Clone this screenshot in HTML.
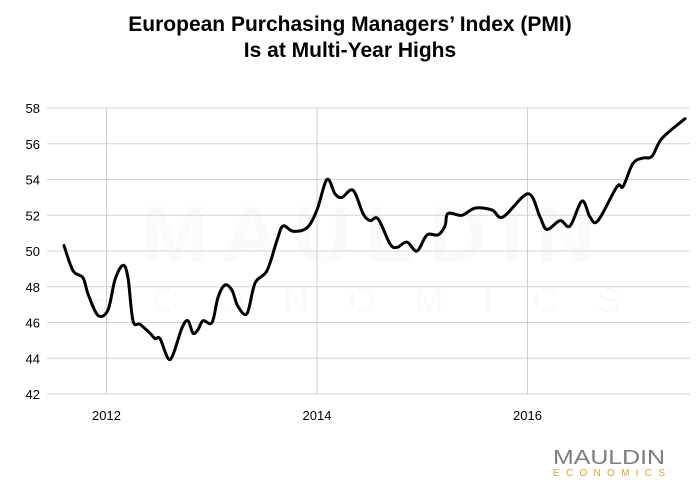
<!DOCTYPE html>
<html><head><meta charset="utf-8"><style>
html,body{margin:0;padding:0;background:#fff;}
body{width:700px;height:486px;overflow:hidden;font-family:"Liberation Sans",sans-serif;}
</style></head><body>
<svg id="chart" width="700" height="486" viewBox="0 0 700 486" xmlns="http://www.w3.org/2000/svg">
<text x="350" y="31" text-anchor="middle" font-size="21" font-weight="bold" fill="#000">European Purchasing Managers’ Index (PMI)</text>
<text x="350" y="57" text-anchor="middle" font-size="21" font-weight="bold" fill="#000">Is at Multi-Year Highs</text>
<text x="375" y="262" text-anchor="middle" font-size="80" font-weight="bold" fill="#fafafa" letter-spacing="14">MAULDIN</text>
<text x="375" y="312" text-anchor="middle" font-size="34" fill="#fafafa" letter-spacing="40">ECONOMICS</text>
<g id="grid"></g>
<g id="axes"></g>
<path id="line" fill="none" stroke="#000" stroke-width="3" stroke-linejoin="round" stroke-linecap="round"></path>
<text x="553" y="464" font-size="20" fill="#7d7d7d" textLength="112" lengthAdjust="spacingAndGlyphs">MAULDIN</text>
<text x="553" y="476" font-size="10" fill="#d6a52c" textLength="112" lengthAdjust="spacing">ECONOMICS</text>
</svg>
<script>
const dates=[2011.596,2011.682,2011.777,2011.824,2011.919,2012.014,2012.081,2012.157,2012.204,2012.252,2012.318,2012.413,2012.461,2012.508,2012.584,2012.632,2012.717,2012.774,2012.822,2012.869,2012.917,2013.002,2013.059,2013.126,2013.192,2013.249,2013.335,2013.411,2013.525,2013.620,2013.677,2013.772,2013.905,2014.000,2014.095,2014.171,2014.238,2014.342,2014.437,2014.504,2014.580,2014.694,2014.760,2014.855,2014.950,2015.045,2015.150,2015.216,2015.245,2015.378,2015.501,2015.663,2015.767,2016.005,2016.119,2016.185,2016.309,2016.404,2016.518,2016.594,2016.670,2016.850,2016.907,2017.002,2017.097,2017.183,2017.278,2017.496];
const pmi=[50.3,48.9,48.5,47.6,46.4,46.7,48.4,49.2,48.5,46.1,45.9,45.4,45.1,45.1,44.0,44.2,45.7,46.1,45.4,45.6,46.1,46.0,47.4,48.1,47.8,46.9,46.5,48.2,48.9,50.6,51.4,51.1,51.3,52.3,54.0,53.2,53.0,53.4,52.1,51.7,51.8,50.4,50.2,50.5,50.0,50.9,50.9,51.4,52.1,52.0,52.4,52.3,51.9,53.2,51.9,51.2,51.7,51.4,52.8,51.9,51.7,53.6,53.6,54.9,55.2,55.3,56.3,57.4];
const yTicks=[42,44,46,48,50,52,54,56,58];
const xTicks=[2012,2014,2016];
const xTickLabels=["2012","2014","2016"];
const NS="http://www.w3.org/2000/svg";
const L=47,R=690,T=108,B=394;
const x=d=>106.5+(d-2012)*105.25;
const y=v=>B-(v-42)*(B-T)/16;
const grid=document.getElementById('grid'),axes=document.getElementById('axes');
function mk(tag,attrs,parent){const e=document.createElementNS(NS,tag);for(const k in attrs)e.setAttribute(k,attrs[k]);parent.appendChild(e);return e;}
yTicks.forEach(v=>{
 const g=mk('line',{x1:L,x2:R,y1:y(v),y2:y(v),stroke:'#d4d4d4','stroke-width':1},grid);
 
 
 const t=mk('text',{x:40,y:y(v)+5,'text-anchor':'end','font-size':13,fill:'#000'},axes);
 t.textContent=v;
 
 
});
xTicks.forEach((d,i)=>{
 const g=mk('line',{x1:x(d),x2:x(d),y1:T,y2:B,stroke:'#cfcfcf','stroke-width':1},grid);
 
 
 const t=mk('text',{x:x(d),y:420,'text-anchor':'middle','font-size':13,fill:'#000'},axes);
 t.textContent=xTickLabels[i];
 
 
});
const P=dates.map((d,i)=>[x(d),y(pmi[i])]);
let dstr='M'+P[0][0].toFixed(1)+','+P[0][1].toFixed(1);
for(let i=0;i<P.length-1;i++){
 const p0=P[Math.max(0,i-1)],p1=P[i],p2=P[i+1],p3=P[Math.min(P.length-1,i+2)];
 const c1=[p1[0]+(p2[0]-p0[0])/6,p1[1]+(p2[1]-p0[1])/6];
 const c2=[p2[0]-(p3[0]-p1[0])/6,p2[1]-(p3[1]-p1[1])/6];
 dstr+=' C'+c1[0].toFixed(1)+','+c1[1].toFixed(1)+' '+c2[0].toFixed(1)+','+c2[1].toFixed(1)+' '+p2[0].toFixed(1)+','+p2[1].toFixed(1);
}
document.getElementById('line').setAttribute('d',dstr);
</script>
</body></html>
